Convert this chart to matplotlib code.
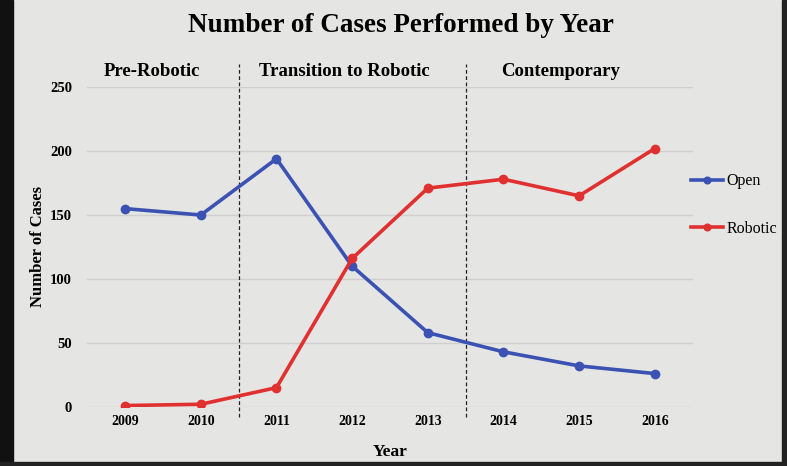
import matplotlib
matplotlib.use("Agg")
import matplotlib.pyplot as plt
from matplotlib.patches import Rectangle

years = ["2009", "2010", "2011", "2012", "2013", "2014", "2015", "2016"]
open_cases = [155, 150, 194, 110, 58, 43, 32, 26]
robotic_cases = [1, 2, 15, 116, 171, 178, 165, 202]
phases = ["Pre-Robotic", "Transition to Robotic", "Contemporary"]
phase_centers = [0.35, 2.9, 5.75]
phase_bounds = [1.5, 4.5]
yticks = [0, 50, 100, 150, 200, 250]

plt.rcParams['font.family'] = ['Liberation Serif', 'DejaVu Serif']
bg = "#e5e5e3"

fig = plt.figure(figsize=(7.87, 4.66), dpi=100, facecolor=bg)
ax = fig.add_axes([0.111, 0.127, 0.769, 0.686], facecolor=bg)

x = list(range(len(years)))
ax.plot(x, open_cases, color="#3b52b3", lw=2.6, marker="o", ms=6, label="Open", zorder=3)
ax.plot(x, robotic_cases, color="#e03030", lw=2.6, marker="o", ms=6, label="Robotic", zorder=3)

ax.set_xlim(-0.5, 7.5)
ax.set_ylim(0, 250)
ax.set_yticks(yticks)
ax.set_xticks(x)
ax.set_xticklabels(years, fontweight="bold", fontsize=10)
for lbl in ax.get_yticklabels():
    lbl.set_fontweight("bold"); lbl.set_fontsize(10.5)
ax.tick_params(axis="y", length=0, pad=11)
ax.tick_params(axis="x", length=0, pad=6)
ax.grid(axis="y", color="#cfcfcd", lw=1)
for s in ax.spines.values():
    s.set_visible(False)
ax.set_axisbelow(True)

for b in phase_bounds:
    ax.plot([b, b], [-8, 268], color="#222222", lw=0.9, ls=(0, (3, 2)), clip_on=False, zorder=2)
for name, c in zip(phases, phase_centers):
    ax.text(c, 262, name, ha="center", va="center", fontsize=13.5, fontweight="bold", clip_on=False)

ax.set_xlabel("Year", fontsize=12.5, fontweight="bold")
ax.xaxis.set_label_coords(0.5, -0.115)
ax.set_ylabel("Number of Cases", fontsize=12, fontweight="bold")
ax.yaxis.set_label_coords(-0.068, 0.5)

fig.text(0.51, 0.945, "Number of Cases Performed by Year", ha="center", va="center",
         fontsize=19.5, fontweight="bold")

fig.legend(loc="center left", bbox_to_anchor=(0.86, 0.56), frameon=False,
           fontsize=11.5, labelspacing=1.95, handlelength=2.0, handletextpad=0.2,
           markerscale=0.8)

fig.add_artist(Rectangle((0, 0), 0.016, 1, transform=fig.transFigure, color="#111111", zorder=10))
fig.add_artist(Rectangle((0, 0), 1, 0.008, transform=fig.transFigure, color="#222222", zorder=10))
fig.add_artist(Rectangle((0.994, 0), 0.006, 1, transform=fig.transFigure, color="#222222", zorder=10))

fig.savefig("out.png", dpi=100, facecolor=bg)
